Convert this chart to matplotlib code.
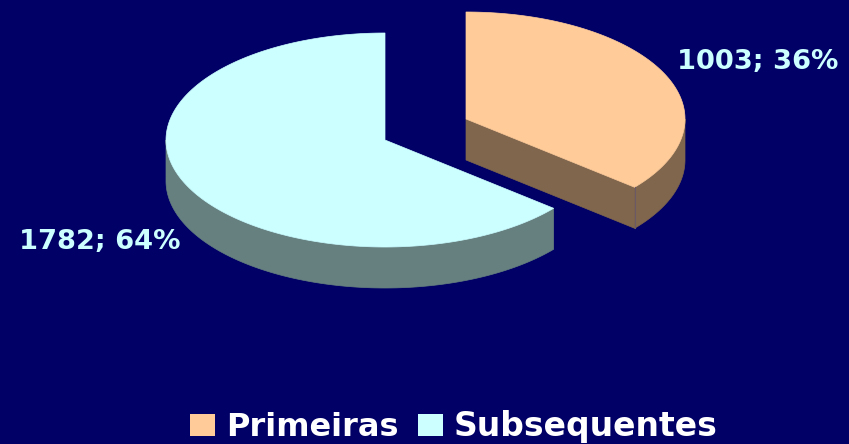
import numpy as np
import matplotlib
matplotlib.use("Agg")
import matplotlib.pyplot as plt
from matplotlib.patches import Polygon, Rectangle

categories = ["Primeiras", "Subsequentes"]
values = [1003, 1782]
percents = [36, 64]
top_colors = ["#FFCC99", "#CCFFFF"]
side_colors = ["#7F664D", "#668080"]
bg = "#000066"

W, H = 849, 444
fig = plt.figure(figsize=(W / 100, H / 100), dpi=100, facecolor=bg)
ax = fig.add_axes([0, 0, 1, 1])
ax.set_xlim(0, W)
ax.set_ylim(H, 0)
ax.axis("off")

RX, RY, DEPTH = 219, 107, 41
frac = values[0] / sum(values)
split = 2 * np.pi * frac


def rim(cx, cy, a0, a1, n=200):
    t = np.linspace(a0, a1, n)
    return np.column_stack([cx + RX * np.sin(t), cy - RY * np.cos(t)])


def draw_slice(cx, cy, a0, a1, top, side):
    pts = rim(cx, cy, a0, a1, 400)
    vis = rim(cx, cy, max(a0, np.pi / 2), min(a1, 3 * np.pi / 2), 300)
    wall = np.vstack([vis, (vis + [0, DEPTH])[::-1]])
    ax.add_patch(Polygon(wall, closed=True, fc=side, ec=side, lw=0.5))
    if a0 < np.pi / 2:
        e = pts[-1]
        cut = [(cx, cy), e, e + [0, DEPTH], (cx, cy + DEPTH)]
        ax.add_patch(Polygon(cut, closed=True, fc=side, ec=side, lw=0.5))
        ax.plot([e[0], e[0]], [e[1], e[1] + DEPTH], color="#6B5A66", lw=0.8)
    ax.add_patch(Polygon(np.vstack([[cx, cy], pts]), closed=True, fc=top, ec=top, lw=0.5))


draw_slice(385, 140, split, 2 * np.pi, top_colors[1], side_colors[1])
draw_slice(466, 119, 0, split, top_colors[0], side_colors[0])

font = ["DejaVu Sans"]
ax.text(758, 62, f"{values[0]}; {percents[0]}%", color="#CCFFFF", fontsize=19.6,
        fontweight="bold", family=font, ha="center", va="center")
ax.text(100, 242, f"{values[1]}; {percents[1]}%", color="#CCFFFF", fontsize=19.6,
        fontweight="bold", family=font, ha="center", va="center")

ax.add_patch(Rectangle((190, 414), 25, 22, fc=top_colors[0], ec="none"))
ax.text(226, 436, categories[0], color="white", fontsize=23, fontweight="bold",
        family=font, ha="left", va="baseline")
ax.add_patch(Rectangle((418, 414), 25, 22, fc=top_colors[1], ec="none"))
ax.text(454, 436, categories[1], color="white", fontsize=23.8, fontweight="bold",
        family=font, ha="left", va="baseline")

fig.savefig("out.png", dpi=100, facecolor=bg)
